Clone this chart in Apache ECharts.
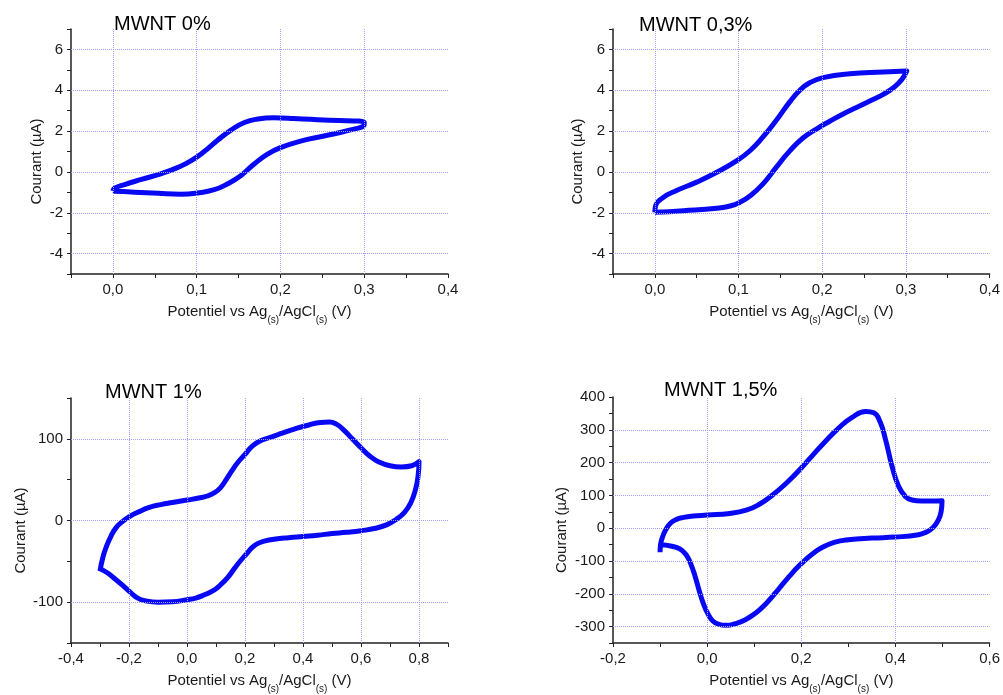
<!DOCTYPE html>
<html>
<head>
<meta charset="utf-8">
<script src="https://cdn.jsdelivr.net/npm/echarts@6/dist/echarts.min.js"></script>
<style>
  html, body { margin: 0; padding: 0; background: #fff; }
  #chart { width: 1003px; height: 695px; }
</style>
</head>
<body>
<div id="chart"></div>
<script>
// ---------- DATA ----------
const titles = ['MWNT 0%', 'MWNT 0,3%', 'MWNT 1%', 'MWNT 1,5%'];
const xAxisName = '{n|Potentiel vs Ag}{s|(s)}{n|/AgCl}{s|(s)}{n| (V)}';
const yAxisName = 'Courant (µA)';

// Panel 1 : MWNT 0%
const p1X = [0.000,0.002,0.014,0.034,0.058,0.077,0.093,0.109,0.125,0.141,0.157,0.173,0.192,0.216,0.252,0.300,
             0.300,0.280,0.252,0.224,0.200,0.185,0.169,0.153,0.137,0.121,0.101,0.081,0.054,0.026,0.000];
const p1Y = [-0.93,-0.80,-0.62,-0.37,-0.08,0.21,0.54,1.00,1.55,2.05,2.42,2.59,2.65,2.62,2.54,2.44,
             2.33,2.02,1.76,1.51,1.19,0.88,0.40,-0.17,-0.58,-0.87,-1.03,-1.09,-1.05,-0.99,-0.95];
const p1XTickVals = [0, 0.1, 0.2, 0.3, 0.4];
const p1XTickLabels = ['0,0', '0,1', '0,2', '0,3', '0,4'];
const p1YTickVals = [-4, -2, 0, 2, 4, 6];
const p1YTickLabels = ['-4', '-2', '0', '2', '4', '6'];
const p1XGrid = [0, 0.1, 0.2, 0.3];
const p1YGrid = [-4, -2, 0, 2, 4, 6];

// Panel 2 : MWNT 0,3%
const p2X = [0.000,0.034,0.074,0.090,0.102,0.114,0.129,0.145,0.161,0.177,0.193,0.209,0.225,0.241,0.257,0.273,0.285,0.295,0.301,
             0.273,0.233,0.201,0.185,0.173,0.161,0.145,0.129,0.114,0.098,0.074,0.050,0.026,0.010,0.001,0.000];
const p2Y = [-1.98,-1.90,-1.78,-1.67,-1.48,-1.17,-0.60,0.22,1.02,1.66,2.10,2.48,2.84,3.15,3.47,3.80,4.12,4.52,4.94,
             4.89,4.81,4.62,4.37,3.99,3.42,2.52,1.70,1.05,0.55,-0.02,-0.50,-0.91,-1.25,-1.65,-1.98];
const p2XTickVals = [0, 0.1, 0.2, 0.3, 0.4];
const p2XTickLabels = ['0,0', '0,1', '0,2', '0,3', '0,4'];
const p2YTickVals = [-4, -2, 0, 2, 4, 6];
const p2YTickLabels = ['-4', '-2', '0', '2', '4', '6'];
const p2XGrid = [0, 0.1, 0.2, 0.3];
const p2YGrid = [-4, -2, 0, 2, 4, 6];

// Panel 3 : MWNT 1%
const p3X = [-0.300,-0.290,-0.278,-0.262,-0.245,-0.225,-0.200,-0.170,-0.130,-0.090,-0.050,0.000,0.040,0.070,0.095,0.115,0.135,0.155,0.175,0.200,0.225,0.250,0.280,0.320,0.370,0.420,0.460,0.490,0.515,0.540,0.570,0.600,0.630,0.660,0.700,0.740,0.775,0.800,
             0.797,0.788,0.772,0.750,0.720,0.690,0.650,0.600,0.550,0.500,0.450,0.400,0.350,0.300,0.270,0.245,0.225,0.205,0.185,0.165,0.140,0.115,0.090,0.060,0.030,0.000,-0.050,-0.100,-0.140,-0.170,-0.195,-0.220,-0.250,-0.275,-0.300];
const p3Y = [-62,-45,-32,-19,-9,-2,4.5,10,16,19.5,22,25,27.5,30,34,40,50,61,71,81,91,97,101,106,112,117,120,120.5,118,111,100,89,79,72,67,65.5,67,72,
             55,38,22,10,1,-5,-9.5,-12.5,-14.5,-16,-18,-19.5,-21,-23,-25,-28,-33,-41,-49,-58,-70,-79,-86,-91,-95,-97,-99.5,-100,-98.5,-95,-88,-80,-71,-64,-59];
const p3XTickVals = [-0.4, -0.2, 0, 0.2, 0.4, 0.6, 0.8];
const p3XTickLabels = ['-0,4', '-0,2', '0,0', '0,2', '0,4', '0,6', '0,8'];
const p3YTickVals = [-100, 0, 100];
const p3YTickLabels = ['-100', '0', '100'];
const p3XGrid = [-0.2, 0, 0.2, 0.4, 0.6, 0.8];
const p3YGrid = [-100, 0, 100];

// Panel 4 : MWNT 1,5%
const p4X = [-0.100,-0.099,-0.095,-0.088,-0.078,-0.065,-0.050,-0.030,0.000,0.048,0.083,0.111,0.139,0.168,0.199,0.224,0.252,0.280,0.308,0.337,0.354,0.368,0.379,0.393,0.407,0.421,0.435,0.455,0.480,0.499,
             0.497,0.490,0.480,0.465,0.449,0.400,0.350,0.300,0.270,0.245,0.225,0.206,0.190,0.175,0.160,0.146,0.125,0.104,0.080,0.060,0.040,0.025,0.012,0.002,-0.008,-0.017,-0.026,-0.035,-0.045,-0.058,-0.075,-0.100];
const p4Y = [-73,-50,-28,-5,15,27,33,37,40,45,55,73,101,137,182,222,266,306,338,356,352,322,270,188,127,97,86,83,83,84,
             50,22,2,-12,-20,-27,-30,-35,-43,-58,-77,-100,-122,-146,-171,-196,-230,-258,-280,-291,-296,-293,-283,-262,-230,-190,-145,-108,-80,-63,-55,-50];
const p4XTickVals = [-0.2, 0, 0.2, 0.4, 0.6];
const p4XTickLabels = ['-0,2', '0,0', '0,2', '0,4', '0,6'];
const p4YTickVals = [-300, -200, -100, 0, 100, 200, 300, 400];
const p4YTickLabels = ['-300', '-200', '-100', '0', '100', '200', '300', '400'];
const p4XGrid = [0, 0.2, 0.4];
const p4YGrid = [-300, -200, -100, 0, 100, 200, 300];

// ---------- CHART ----------
const FONT = '"Liberation Sans", Arial, sans-serif';
const TXT = '#1a1a1a';
function zip(xs, ys) { return xs.map((x, i) => [x, ys[i]]); }
function fmt(vals, labels) {
  return function (v) {
    for (let i = 0; i < vals.length; i++) if (Math.abs(v - vals[i]) < 1e-6) return labels[i];
    return '';
  };
}

const panels = [
  { grid: {left: 71, top: 29, width: 377, height: 245}, xr: [-0.05, 0.4, 0.05], yr: [-5, 7, 1],
    X: p1X, Y: p1Y, xtv: p1XTickVals, xtl: p1XTickLabels, ytv: p1YTickVals, ytl: p1YTickLabels, xg: p1XGrid, yg: p1YGrid,
    title: {left: 114, top: 14}, yGap: 27 },
  { grid: {left: 613, top: 29, width: 377, height: 245}, xr: [-0.05, 0.4, 0.05], yr: [-5, 7, 1],
    X: p2X, Y: p2Y, xtv: p2XTickVals, xtl: p2XTickLabels, ytv: p2YTickVals, ytl: p2YTickLabels, xg: p2XGrid, yg: p2YGrid,
    title: {left: 639, top: 15}, yGap: 28 },
  { grid: {left: 71, top: 398, width: 377, height: 246}, xr: [-0.4, 0.9, 0.1], yr: [-150, 150, 50],
    X: p3X, Y: p3Y, xtv: p3XTickVals, xtl: p3XTickLabels, ytv: p3YTickVals, ytl: p3YTickLabels, xg: p3XGrid, yg: p3YGrid,
    title: {left: 105, top: 382}, yGap: 43 },
  { grid: {left: 613, top: 397, width: 377, height: 246}, xr: [-0.2, 0.6, 0.1], yr: [-350, 400, 50],
    X: p4X, Y: p4Y, xtv: p4XTickVals, xtl: p4XTickLabels, ytv: p4YTickVals, ytl: p4YTickLabels, xg: p4XGrid, yg: p4YGrid,
    title: {left: 664, top: 380}, yGap: 44 }
];

const option = {
  animation: false,
  backgroundColor: '#ffffff',
  title: [], grid: [], xAxis: [], yAxis: [], series: []
};

panels.forEach((p, i) => {
  option.title.push({
    text: titles[i], left: p.title.left, top: p.title.top, padding: 0,
    textStyle: {fontFamily: FONT, fontSize: 20, fontWeight: 'normal', color: '#000'}
  });
  option.grid.push(p.grid);
  option.xAxis.push({
    type: 'value', gridIndex: i, min: p.xr[0], max: p.xr[1], interval: p.xr[2],
    axisLine: {show: true, onZero: false, lineStyle: {color: '#222', width: 1.5}},
    axisTick: {show: true, length: 4, lineStyle: {color: '#222', width: 1}},
    axisLabel: {show: true, margin: 8, fontFamily: FONT, fontSize: 15, color: TXT, formatter: fmt(p.xtv, p.xtl)},
    splitLine: {show: false},
    name: xAxisName, nameLocation: 'middle', nameGap: 24,
    nameTextStyle: {
      fontFamily: FONT, fontSize: 15, color: TXT,
      rich: {
        n: {fontFamily: FONT, fontSize: 15, color: TXT, lineHeight: 28, verticalAlign: 'middle'},
        s: {fontFamily: FONT, fontSize: 10, color: TXT, lineHeight: 12, padding: [16, 0, 0, 0]}
      }
    }
  });
  option.yAxis.push({
    type: 'value', gridIndex: i, min: p.yr[0], max: p.yr[1], interval: p.yr[2],
    axisLine: {show: true, onZero: false, lineStyle: {color: '#222', width: 1.5}},
    axisTick: {show: true, length: 4, lineStyle: {color: '#222', width: 1}},
    axisLabel: {show: true, margin: 8, fontFamily: FONT, fontSize: 15, color: TXT, formatter: fmt(p.ytv, p.ytl)},
    splitLine: {show: false},
    name: yAxisName, nameLocation: 'middle', nameRotate: 90, nameGap: p.yGap,
    nameTextStyle: {fontFamily: FONT, fontSize: 15, color: TXT, padding: [0, 20, 0, 0]}
  });
  // grid lines (dotted) through the axes' own scales
  option.series.push({
    type: 'line', xAxisIndex: i, yAxisIndex: i, z: 1, silent: true,
    data: [], showSymbol: false, lineStyle: {opacity: 0},
    markLine: {
      silent: true, symbol: ['none', 'none'], label: {show: false}, animation: false,
      lineStyle: {type: [1, 1], color: '#9e9ef8', width: 1},
      emphasis: {disabled: true},
      data: p.xg.map(v => ({xAxis: v})).concat(p.yg.map(v => ({yAxis: v})))
    }
  });
  // CV curve
  option.series.push({
    type: 'line', xAxisIndex: i, yAxisIndex: i, z: 3,
    data: zip(p.X, p.Y), showSymbol: false, smooth: 0.5,
    lineStyle: {color: '#0808f5', width: 5, join: 'round', cap: 'butt'},
    emphasis: {disabled: true}
  });
});

const chart = echarts.init(document.getElementById('chart'), null, {renderer: 'canvas'});
chart.setOption(option);
</script>
</body>
</html>
